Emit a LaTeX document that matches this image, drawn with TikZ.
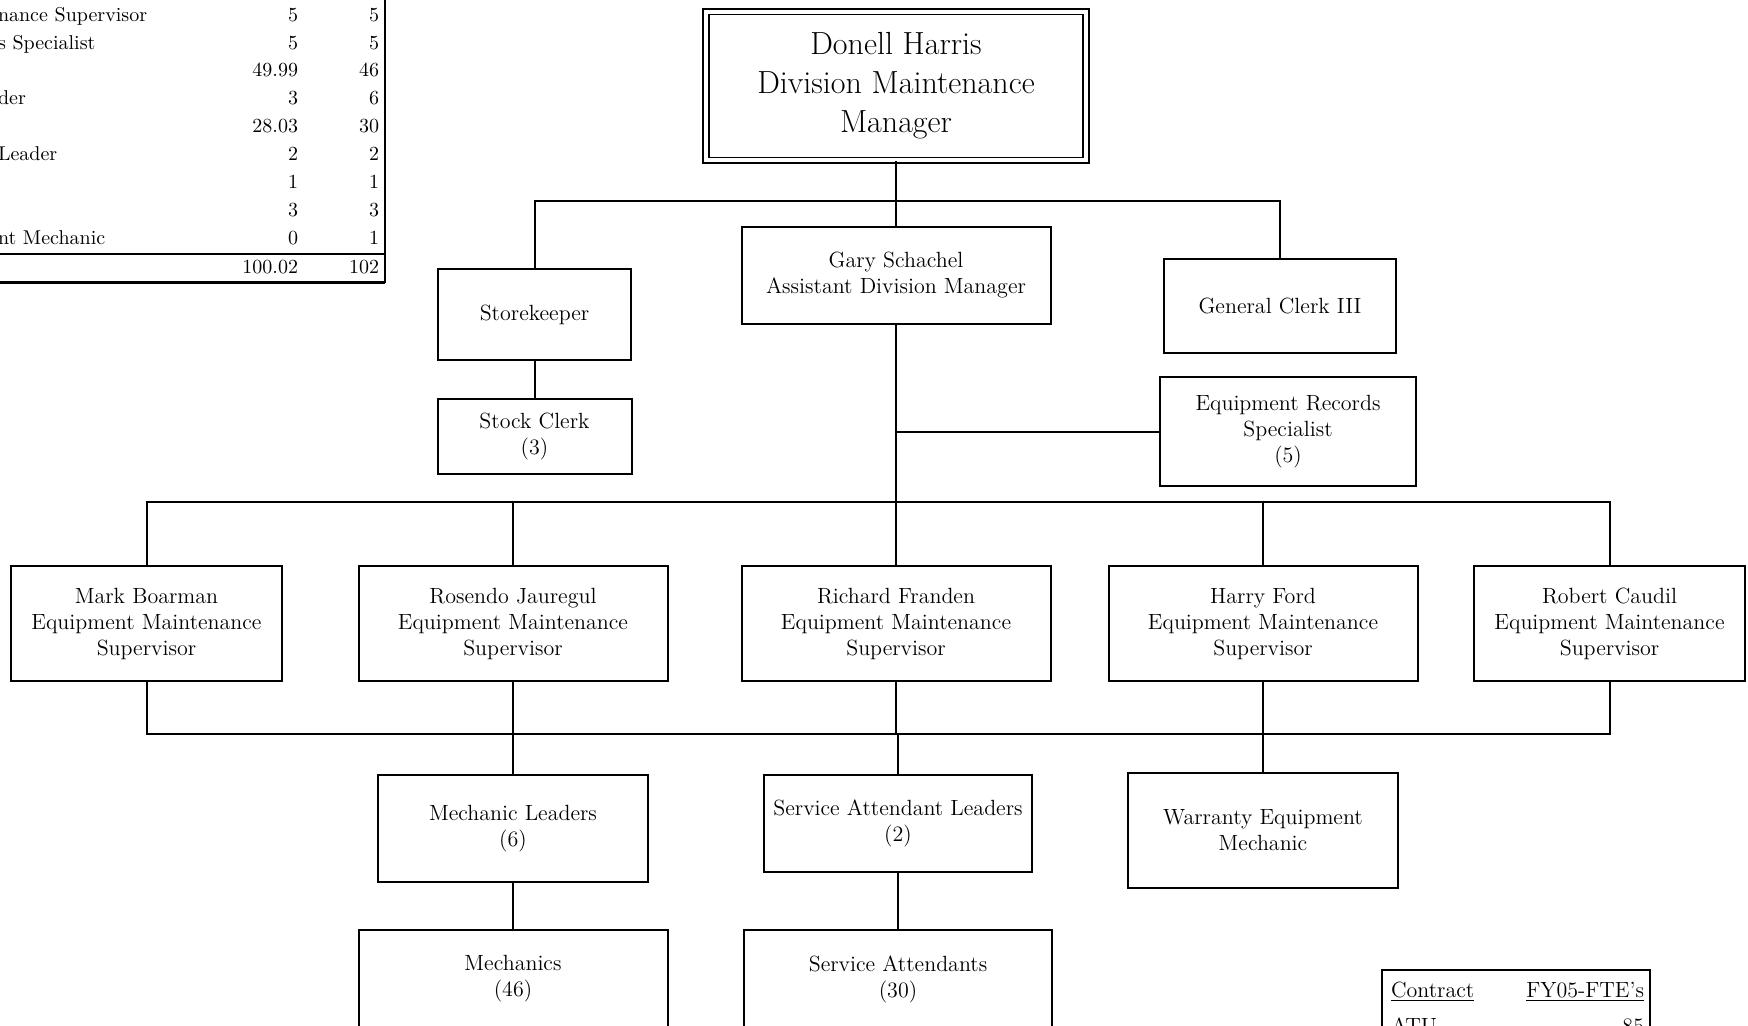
\documentclass[tikz,border=0pt]{standalone}
\usetikzlibrary{positioning}

\begin{document}
\begin{tikzpicture}[
  x=0.5pt, y=-0.5pt, line width=1pt,
  box/.style  = {draw, rectangle, align=center, inner sep=2pt,
                 font=\fontsize{11}{13}\selectfont},
  head/.style = {box, double, line width=0.8pt, double distance=2pt,
                 font=\fontsize{16}{19.5}\selectfont},
  cell/.style = {inner sep=0pt, font=\fontsize{10}{12}\selectfont},
  note/.style = {inner sep=0pt, font=\fontsize{11}{13}\selectfont},
]
  \useasboundingbox (0,0) rectangle (1748,1026);
  \clip (0,0) rectangle (1748,1026);

  % ---- manager and his staff ----
  \node[head, minimum width=190pt, minimum height=74.4pt] (dmm) at (896,86)
    {Donell Harris\\Division Maintenance\\Manager};
  \node[box, minimum width=154.5pt, minimum height=48.5pt] (gary) at (896,275.5)
    {Gary Schachel\\Assistant Division Manager};
  \node[box, minimum width=96.5pt, minimum height=45.5pt] (store) at (534.5,314.5)
    {Storekeeper};
  \node[box, minimum width=116pt, minimum height=47pt] (clerk) at (1280,306)
    {General Clerk III};
  \node[box, minimum width=97pt, minimum height=37.5pt] (stock) at (534.5,436.5)
    {Stock Clerk\\(3)};
  \node[box, minimum width=128pt, minimum height=54.5pt] (rec) at (1288,431.5)
    {Equipment Records\\Specialist\\(5)};

  % ---- supervisors ----
  \node[box, minimum width=135.5pt, minimum height=57.5pt] (mark) at (146.5,623.5)
    {Mark Boarman\\Equipment Maintenance\\Supervisor};
  \node[box, minimum width=154.5pt, minimum height=57.5pt] (rosendo) at (513,623.5)
    {Rosendo Jauregul\\Equipment Maintenance\\Supervisor};
  \node[box, minimum width=154.5pt, minimum height=57.5pt] (richard) at (896,623.5)
    {Richard Franden\\Equipment Maintenance\\Supervisor};
  \node[box, minimum width=154.5pt, minimum height=57.5pt] (harry) at (1263,623.5)
    {Harry Ford\\Equipment Maintenance\\Supervisor};
  \node[box, minimum width=135.5pt, minimum height=57.5pt] (robert) at (1609.5,623.5)
    {Robert Caudil\\Equipment Maintenance\\Supervisor};

  % ---- crews ----
  \node[box, minimum width=135pt, minimum height=53.5pt] (mechlead) at (513,828.5)
    {Mechanic Leaders\\(6)};
  \node[box, minimum width=134pt, minimum height=48.5pt] (sal) at (898,823.5)
    {Service Attendant Leaders\\(2)};
  \node[box, minimum width=135pt, minimum height=57.5pt] (warranty) at (1263,830.5)
    {Warranty Equipment\\Mechanic};
  \node[box, minimum width=154.5pt, minimum height=49pt] (mech) at (513,979)
    {Mechanics\\(46)};
  \node[box, minimum width=154pt, minimum height=49pt] (sattend) at (898,979)
    {Service Attendants\\(30)};

  % bus lines
  \coordinate (bus1) at (896,201);
  \coordinate (bus2) at (896,502);
  \coordinate (bus3) at (896,734);

  \draw (dmm.south) -- (gary.north);
  \draw (store.north) |- (bus1) -| (clerk.north);
  \draw (store.south) -- (stock.north);
  \draw (gary.south) -- (richard.north);
  \draw (rec.west) -- (rec.west -| gary.south);

  \draw (mark.north) |- (bus2) -| (robert.north);
  \foreach \s in {rosendo, harry}
    \draw (\s.north) -- (\s.north |- bus2);

  \draw (mark.south) |- (bus3) -| (robert.south);
  \foreach \s in {rosendo, richard, harry}
    \draw (\s.south) -- (\s.south |- bus3);
  \foreach \c in {mechlead, sal, warranty}
    \draw (\c.north) -- (\c.north |- bus3);

  \draw (mechlead.south) -- (mech.north);
  \draw (sal.south) -- (sattend.north);

  % ---- FTE table, top left (cut by the page edge) ----
  \foreach \ypos/\txt/\fa/\fb in {17/nance Supervisor/5/5, 45/s Specialist/5/5,
      72//49.99/46, 100/der/3/6, 128//28.03/30, 156/Leader/2/2,
      184//1/1, 212//3/3, 240/nt Mechanic/0/1} {
    \node[cell, anchor=mid west] (lbl\ypos) at (-3,\ypos) {\txt};
    \node[cell, anchor=mid east] (fa\ypos)  at (299,\ypos) {\fa};
    \node[cell, anchor=mid east] (fb\ypos)  at (380,\ypos) {\fb};
  }
  \node[cell, anchor=mid east] (tota) at (299,269) {100.02};
  \node[cell, anchor=mid east] (totb) at (380,269) {102};
  \draw (0,254) -- (385,254);
  \draw[line width=1.5pt] (0,283) -- (385,283);
  \draw (385,0) -- (385,283);

  % ---- contract table, bottom right ----
  \draw (1382,1040) |- (1650,970) -- (1650,1040);
  \node[note, anchor=mid west] (contract) at (1390,993) {\underline{Contract}};
  \node[note, anchor=mid east] (fte)      at (1645,993) {\underline{FY05-FTE's}};
  \node[note, anchor=mid west] (atu)      at (1390,1029) {ATU};
  \node[note, anchor=mid east] (atufte)   at (1645,1029) {85};
\end{tikzpicture}
\end{document}
